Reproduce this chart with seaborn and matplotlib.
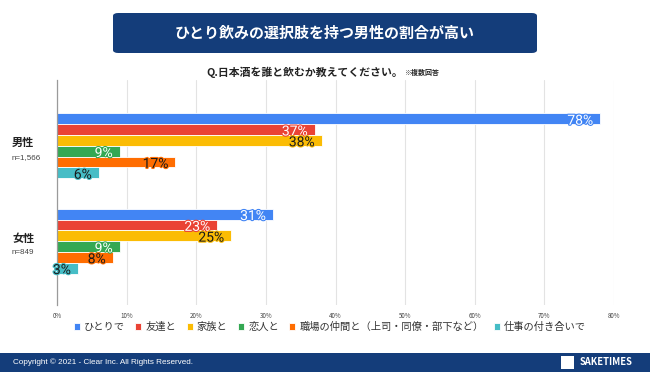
import matplotlib
matplotlib.use("Agg")
import matplotlib.pyplot as plt
import matplotlib.patheffects as pe
from matplotlib.patches import FancyBboxPatch, Rectangle
from matplotlib.transforms import blended_transform_factory
import seaborn as sns
import pandas as pd

# data
groups = ["男性", "女性"]
group_n = ["n=1,566", "n=849"]
answers = ["ひとりで", "友達と", "家族と", "恋人と", "職場の仲間と（上司・同僚・部下など）", "仕事の付き合いで"]
male = [78, 37, 38, 9, 17, 6]
female = [31, 23, 25, 9, 8, 3]
colors = ["#4285F4", "#EA4335", "#FBBC04", "#34A853", "#FF6D01", "#46BDC6"]
text_colors = ["white", "white", "#1a1a1a", "white", "#1a1a1a", "#1a1a1a"]
xticks = [0, 10, 20, 30, 40, 50, 60, 70, 80]

navy = "#143D7A"

sns.set_theme(style="white")
plt.rcParams["font.family"] = ["Noto Sans CJK JP", "DejaVu Sans"]

rows = []
for g, vals in zip(groups, [male, female]):
    for a, v in zip(answers, vals):
        rows.append({"性別": g, "回答": a, "割合": v})
df = pd.DataFrame(rows)

fig = plt.figure(figsize=(6.5, 3.72), dpi=100)
ax = fig.add_axes([57 / 650, 1 - 305 / 372, (614 - 57) / 650, (305 - 80) / 372])

sns.barplot(data=df, x="割合", y="性別", hue="回答", hue_order=answers,
            palette=colors, saturation=1, orient="h", width=0.68,
            edgecolor="white", linewidth=0.6, ax=ax)

ax.set_xlim(0, 80)
ax.set_ylim(1.67, -0.69)
ax.set_xticks(xticks)
ax.set_xticklabels([f"{t}%" for t in xticks], fontsize=4.5, color="#444444")
ax.tick_params(axis="x", length=0, pad=5)
ax.set_yticks([])
ax.set_xlabel("")
ax.set_ylabel("")
ax.grid(axis="x", color="#e3e3e3", linewidth=0.8)
ax.set_axisbelow(True)
for s in ["top", "right", "bottom"]:
    ax.spines[s].set_visible(False)
ax.spines["left"].set_color("#9a9a9a")
ax.spines["left"].set_linewidth(0.9)

# value labels at the bar ends
for i, cont in enumerate(ax.containers):
    for p in cont.patches:
        w = p.get_width()
        yc = p.get_y() + p.get_height() / 2
        ax.text(w - 1.0, yc + 0.02, f"{w:.0f}%", ha="right", va="center",
                fontsize=10, color=text_colors[i], clip_on=False,
                family=["Roboto", "DejaVu Sans"],
                path_effects=[pe.withStroke(linewidth=1.6, foreground=colors[i])])

# group labels
tr = blended_transform_factory(fig.transFigure, ax.transData)
for k, (g, n) in enumerate(zip(groups, group_n)):
    ax.text(12 / 650, k - 0.03, g, transform=tr, ha="left", va="center",
            fontsize=8, fontweight="bold", color="#222222")
    ax.text(12 / 650, k + 0.12, n, transform=tr, ha="left", va="center",
            fontsize=5.8, color="#444444", family="Liberation Sans")

# legend
handles, labels = ax.get_legend_handles_labels()
ax.legend_.remove()
fig.legend(handles, labels, loc="center", bbox_to_anchor=(330 / 650, 1 - 327 / 372),
           ncol=6, frameon=False, fontsize=7.4, handlelength=0.6, handleheight=0.6,
           handletextpad=0.4, columnspacing=1.0, labelcolor="#333333")

# title banner
banner = FancyBboxPatch((113 / 650, 1 - 53 / 372), (537 - 113) / 650, 40 / 372,
                        boxstyle="round,pad=0,rounding_size=0.008",
                        transform=fig.transFigure, facecolor=navy, edgecolor="none")
fig.patches.append(banner)
fig.text(325 / 650, 1 - 33 / 372, "ひとり飲みの選択肢を持つ男性の割合が高い",
         ha="center", va="center", fontsize=10.8, fontweight="bold", color="white")

# question line
fig.text(403 / 650, 1 - 72 / 372, "Q.日本酒を誰と飲むか教えてください。",
         ha="right", va="center", fontsize=7.8, fontweight="bold", color="#222222")
fig.text(404 / 650, 1 - 72.5 / 372, "※複数回答", ha="left", va="center",
         fontsize=5, fontweight="bold", color="#222222")

# footer
fig.patches.append(Rectangle((0, 0), 1, 19 / 372, transform=fig.transFigure,
                             facecolor=navy, edgecolor="none"))
fig.text(13 / 650, 10 / 372, "Copyright © 2021 - Clear Inc. All Rights Reserved.",
         ha="left", va="center", fontsize=5.9, color="white", family="Liberation Sans")
fig.patches.append(Rectangle((561 / 650, 3 / 372), 13 / 650, 13 / 372,
                             transform=fig.transFigure, facecolor="white",
                             edgecolor="none"))
fig.text(580 / 650, 10 / 372, "SAKETIMES", ha="left", va="center",
         fontsize=6.8, fontweight="bold", color="white")

fig.savefig("out.png", dpi=100)
